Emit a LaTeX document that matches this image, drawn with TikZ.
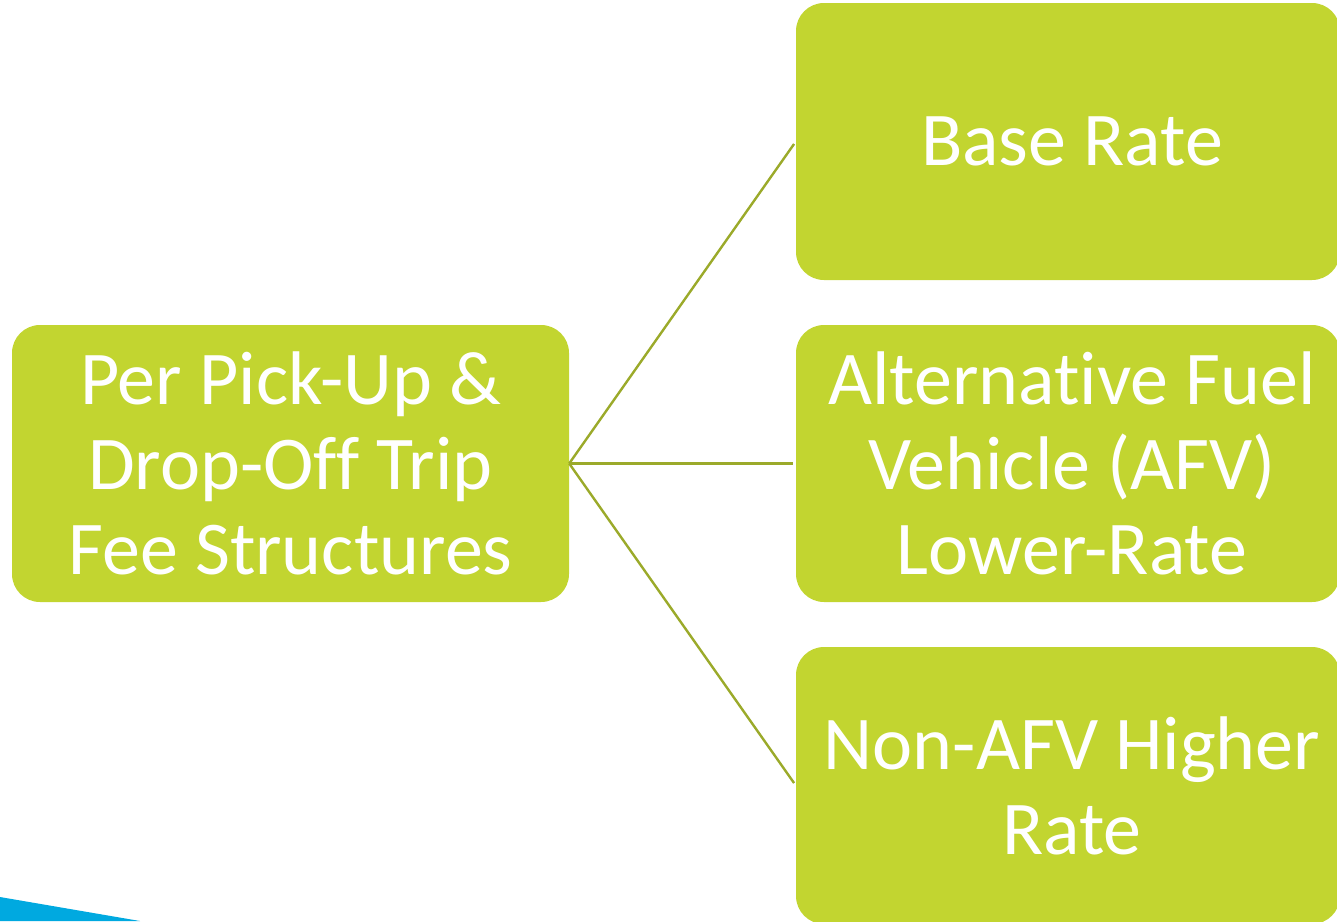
\documentclass[tikz,border=0pt]{standalone}
\usepackage{fontspec}
\setmainfont[Ligatures={NoCommon}]{Carlito}
\definecolor{leafgreen}{HTML}{C2D530}
\definecolor{stemolive}{HTML}{9BAA2A}
\definecolor{skyblue}{HTML}{00A9E0}
\tikzset{
  feebox/.style={
    fill=leafgreen, rounded corners=28pt, text=white, align=center,
    inner sep=0pt, minimum width=544pt, minimum height=277pt,
    font=\fontsize{76}{85}\selectfont},
  branch/.style={draw=stemolive, line width=2.4pt, shorten >=3pt}
}
\begin{document}
\begin{tikzpicture}[x=1pt, y=-1pt]%
\useasboundingbox (0,0) rectangle (1337,921);%
\clip (0,0) rectangle (1337,921);%
% corner accent
\fill [skyblue] (0,897) -- (140,921) -- (0,921) -- cycle;%
% fee structure boxes
\node [feebox, minimum width=557pt] (fee) at (290.5,463.5) {%
Per Pick-Up \&\\ Drop-Off Trip\\ Fee Structures};
\node [feebox] (base) at (1068,141.5) {\hspace*{8pt}Base Rate};
\node [feebox] (afv) at (1068,463.5) {%
\hspace*{8pt}Alternative Fuel\\ \hspace*{8pt}Vehicle (AFV)\\ \hspace*{8pt}Lower-Rate};
\node [feebox] (nonafv) at (1068,785.5) {%
\hspace*{8pt}Non-AFV Higher\\ \hspace*{8pt}Rate};
% branches
\draw [branch] (fee.east) -- (base.west);%
\draw [branch] (fee.east) -- (afv.west);%
\draw [branch] (fee.east) -- (nonafv.west);%
\end{tikzpicture}
\end{document}
